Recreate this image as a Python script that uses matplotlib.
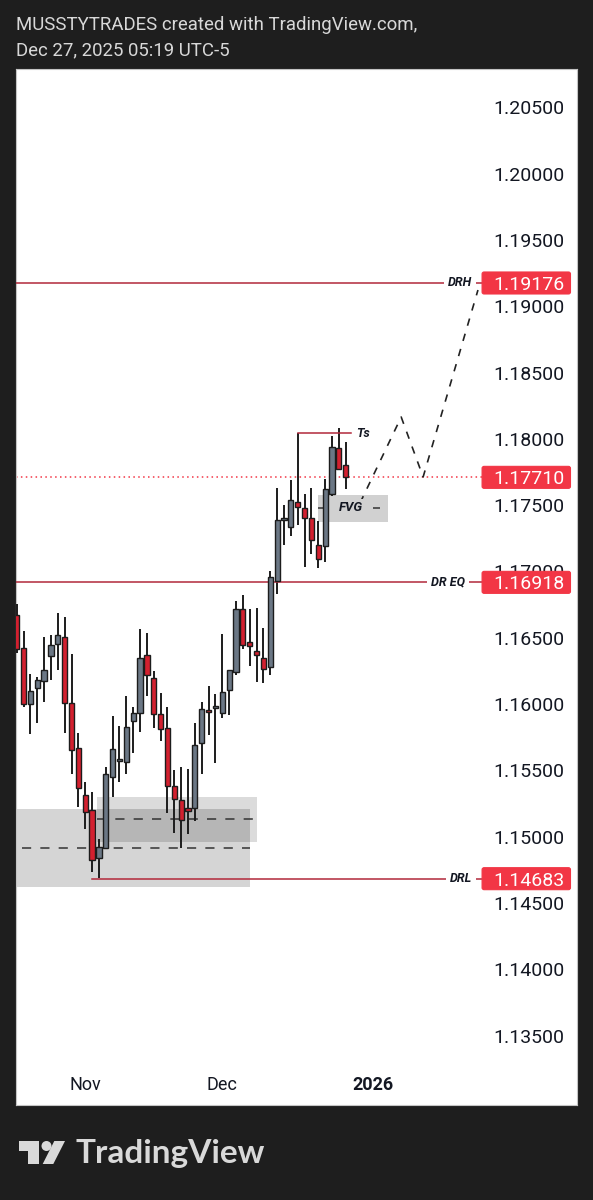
"""Recreate the EURUSD-style daily TradingView snapshot with DR levels."""

import matplotlib

matplotlib.use("Agg")
import matplotlib.pyplot as plt
from matplotlib.patches import Circle, FancyBboxPatch, Polygon, Rectangle

plt.rcParams["font.family"] = ["Roboto", "DejaVu Sans"]

opens = [1.16672, 1.16420, 1.16001, 1.16124, 1.16172, 1.16360, 1.16456, 1.16509, 1.16011, 1.15669,
         1.15314, 1.15199, 1.14836, 1.14917, 1.15447, 1.15573, 1.15566, 1.15870, 1.15930, 1.16370,
         1.16199, 1.15923, 1.15817, 1.15385, 1.15276, 1.15214, 1.15219, 1.15704, 1.15955, 1.15968,
         1.15935, 1.16106, 1.16242, 1.16717, 1.16466, 1.16398, 1.16350, 1.16277, 1.16931, 1.17391,
         1.17333, 1.17522, 1.17476, 1.17406, 1.17200, 1.17195, 1.17585, 1.17932, 1.17806]
closes = [1.16413, 1.16001, 1.16099, 1.16182, 1.16255, 1.16446, 1.16524, 1.16006, 1.15654, 1.15364,
          1.15188, 1.14826, 1.14922, 1.15470, 1.15664, 1.15583, 1.15825, 1.15930, 1.16345, 1.16219,
          1.15925, 1.15810, 1.15385, 1.15282, 1.15128, 1.15196, 1.15694, 1.15965, 1.15938, 1.15983,
          1.16094, 1.16255, 1.16715, 1.16448, 1.16436, 1.16373, 1.16267, 1.16956, 1.17389, 1.17401,
          1.17539, 1.17484, 1.17401, 1.17238, 1.17094, 1.17620, 1.17937, 1.17773, 1.17715]
highs = [1.16755, 1.16554, 1.16227, 1.16202, 1.16503, 1.16519, 1.16690, 1.16659, 1.16378, 1.15779,
         1.15412, 1.15337, 1.14985, 1.15523, 1.15913, 1.15835, 1.16061, 1.15981, 1.16564, 1.16534,
         1.16250, 1.16081, 1.15975, 1.15503, 1.15523, 1.15508, 1.15860, 1.16013, 1.16136, 1.16076,
         1.16526, 1.16257, 1.16778, 1.16820, 1.16720, 1.16725, 1.16574, 1.17001, 1.17632, 1.17502,
         1.17690, 1.18042, 1.17585, 1.17632, 1.17381, 1.17698, 1.18025, 1.18085, 1.17974]
lows = [1.16388, 1.15981, 1.15774, 1.15855, 1.16016, 1.16182, 1.16257, 1.15779, 1.15473, 1.15221,
        1.15055, 1.14733, 1.14686, 1.14912, 1.15297, 1.15415, 1.15473, 1.15634, 1.15792, 1.16061,
        1.15820, 1.15724, 1.15181, 1.15025, 1.14912, 1.15020, 1.15121, 1.15473, 1.15769, 1.15558,
        1.15898, 1.15915, 1.16217, 1.16418, 1.16287, 1.16169, 1.16157, 1.16222, 1.16830, 1.17200,
        1.17268, 1.17351, 1.17037, 1.17129, 1.17029, 1.17069, 1.17570, 1.17766, 1.17622]

price_ticks = [1.205, 1.20, 1.195, 1.19, 1.185, 1.18, 1.175, 1.17, 1.165, 1.16,
               1.155, 1.15, 1.145, 1.14, 1.135]
time_ticks = [10.0, 30.0, 52.0]
time_labels = ["Nov", "Dec", "2026"]

drh = 1.19176
dr_eq = 1.16918
drl = 1.14683
last_price = 1.17710
ts_level = 1.18042

# projected path (bar index, price)
path_x = [50.1, 56.1, 59.3, 67.3]
path_y = [1.17517, 1.18165, 1.17713, 1.19123]

BG = "#1E1E1E"
RED = "#F23645"
LEVEL = "#B2283A"
UP = "#6B7785"
DOWN = "#D3202F"
INK = "#131722"
WICK = "#1C1C1C"
FVG_GREY = "#D1D1D1"


def level_line(ax, y, x0, x1, label, label_x):
    ax.plot([x0, x1], [y, y], color=LEVEL, lw=1.1, zorder=3)
    ax.text(label_x, y, label, ha="center", va="center", fontsize=9, style="italic",
            weight="bold", color=INK, zorder=4,
            bbox=dict(fc="white", ec="none", pad=3))


def price_tag(ax, y):
    ax.add_patch(FancyBboxPatch((67.9, y - 0.00083), 12.9, 0.00166,
                                boxstyle="round,pad=0,rounding_size=0.3",
                                mutation_aspect=0.0005, fc=RED, ec=RED, lw=0.8, zorder=6))
    ax.text(79.9, y, f"{y:.5f}", ha="right", va="center_baseline", fontsize=14,
            color="white", zorder=7)


def draw_logo(fig):
    over = fig.add_axes([0, 0, 1, 1], facecolor="none")
    over.set_xlim(0, 593)
    over.set_ylim(1200, 0)
    over.axis("off")
    logo = "#D9D9D9"
    over.add_patch(Polygon([(18.7, 1141), (39, 1141), (39, 1164), (28.3, 1164),
                            (28.3, 1150.7), (18.7, 1150.7)], fc=logo, ec="none"))
    over.add_patch(Circle((46.5, 1146), 5, fc=logo, ec="none"))
    over.add_patch(Polygon([(65, 1141), (53.3, 1164), (42.7, 1164), (54.3, 1141)], fc=logo, ec="none"))
    over.text(76, 1153, "TradingView", fontsize=24, weight="bold", family=["Lato", "DejaVu Sans"],
              color=logo, va="center", ha="left")
    over.text(16, 25, "MUSSTYTRADES created with TradingView.com,", fontsize=13.4,
              color="#D8D8D8", va="center", ha="left")
    over.text(16, 50, "Dec 27, 2025 05:19 UTC-5", fontsize=13.4,
              color="#D8D8D8", va="center", ha="left")


def main():
    fig = plt.figure(figsize=(5.93, 12), dpi=100, facecolor=BG)
    ax = fig.add_axes([16 / 593, 95 / 1200, 561 / 593, 1036 / 1200], facecolor="white")
    ax.set_xlim(-0.10, 81.75)
    ax.set_ylim(1.12976, 1.20790)
    for s in ax.spines.values():
        s.set_color("#C4C4C4")
        s.set_linewidth(0.8)

    # shaded zones
    ax.add_patch(Rectangle((-0.1, 1.14620), 34.14, 0.00589, fc="black", alpha=0.165, ec="none", zorder=1))
    ax.add_patch(Rectangle((11.7, 1.14960), 23.36, 0.00339, fc="black", alpha=0.14, ec="none", zorder=1))
    ax.add_patch(Rectangle((44.0, 1.17374), 10.2, 0.00204, fc=FVG_GREY, ec="none", zorder=1))

    # mid lines of the zones
    ax.plot([0.8, 34], [1.14914, 1.14914], color="#333333", lw=1.1, dashes=(6, 6), zorder=2)
    ax.plot([11.7, 35.0], [1.15133, 1.15133], color="#333333", lw=1.1, dashes=(6, 6), zorder=2)
    ax.plot([44.0, 53.0], [1.17479, 1.17479], color="#333333", lw=1.1, dashes=(6, 6), zorder=2)
    ax.text(48.8, 1.17479, "FVG", ha="center", va="center", fontsize=9.5, style="italic",
            weight="bold", color=INK, zorder=4, bbox=dict(fc=FVG_GREY, ec="none", pad=2))

    # candles
    xs = list(range(len(opens)))
    ax.vlines(xs, lows, highs, color=WICK, lw=1.4, zorder=3)
    bottoms = [min(o, c) for o, c in zip(opens, closes)]
    heights = [abs(o - c) for o, c in zip(opens, closes)]
    colors = [UP if c > o else DOWN for o, c in zip(opens, closes)]
    ax.bar(xs, heights, bottom=bottoms, width=0.76, color=colors, edgecolor=WICK, linewidth=1.0, zorder=4)

    # levels
    ax.plot([-0.1, 67.9], [last_price, last_price], color=RED, lw=1.1, ls=(0, (1, 2.2)), zorder=2)
    level_line(ax, drh, -0.1, 67.9, "DRH", 64.7)
    level_line(ax, dr_eq, -0.1, 67.9, "DR EQ", 62.9)
    level_line(ax, drl, 11.0, 67.9, "DRL", 64.8)
    ax.plot([41.0, 48.8], [ts_level, ts_level], color=LEVEL, lw=1.1, zorder=3)
    ax.text(50.6, ts_level - 0.00002, "Ts", ha="center", va="center", fontsize=9, style="italic",
            weight="bold", color=INK, zorder=4)

    # projected path
    ax.plot(path_x, path_y, color="#222222", lw=1.2, dashes=(4.5, 5), zorder=3)

    # axis labels, drawn inside the panel
    ax.set_xticks([])
    ax.set_yticks([])
    for p in price_ticks:
        ax.text(79.9, p, f"{p:.5f}", ha="right", va="center_baseline", fontsize=14, color=INK, zorder=5)
    for x, lab in zip(time_ticks, time_labels):
        ax.text(x, 1.13127, lab, ha="center", va="center", fontsize=13, color=INK,
                weight="bold" if lab == "2026" else "normal", zorder=5)

    for lvl in (drh, last_price, dr_eq, drl):
        price_tag(ax, lvl)

    draw_logo(fig)
    fig.savefig("out.png", dpi=100, facecolor=BG)


if __name__ == "__main__":
    main()
